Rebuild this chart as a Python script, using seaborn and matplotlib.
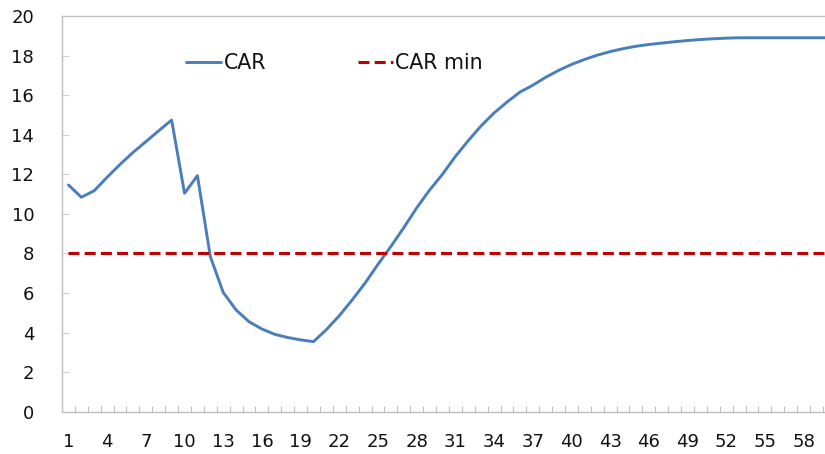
import matplotlib
matplotlib.use("Agg")
import matplotlib.pyplot as plt
import seaborn as sns
import pandas as pd
import numpy as np

# Werte
periods = list(range(1, 61))
car = [
    11.46, 10.84, 11.17, 11.85, 12.5, 13.1, 13.65, 14.2, 14.74, 11.04,
    11.93, 7.84, 6.03, 5.14, 4.55, 4.18, 3.91, 3.75, 3.63, 3.54,
    4.15, 4.85, 5.65, 6.5, 7.45, 8.35, 9.3, 10.3, 11.2, 12.0,
    12.9, 13.7, 14.45, 15.1, 15.65, 16.15, 16.5, 16.9, 17.25, 17.55,
    17.8, 18.02, 18.2, 18.35, 18.47, 18.56, 18.63, 18.7, 18.76, 18.81,
    18.85, 18.88, 18.9, 18.9, 18.9, 18.9, 18.9, 18.9, 18.9, 18.9,
]
car_min = [8] * len(periods)
x_tick_labels = [str(p) for p in periods[::3]]
y_ticks = list(range(0, 21, 2))

sns.set_theme(style="white")
plt.rcParams["font.family"] = ["DejaVu Sans"]

df = pd.DataFrame({"period": periods, "CAR": car, "CAR min": car_min})

fig = plt.figure(figsize=(8.25, 4.54), dpi=100)
ax = fig.add_axes([62 / 825, 42.3 / 454, 1 - 62 / 825, 395.7 / 454])

sns.lineplot(data=df, x="period", y="CAR", ax=ax, color="#4A7EBB",
             linewidth=2.1, label="CAR")
sns.lineplot(data=df, x="period", y="CAR min", ax=ax, color="#C00000",
             linewidth=2.2, linestyle=(0, (3.6, 1.7)), label="CAR min")

ax.set_xlim(0.5, 59.66)
ax.set_ylim(0, 20)
ax.set_xlabel("")
ax.set_ylabel("")

ax.set_xticks(periods[::3])
ax.set_xticklabels(x_tick_labels)
ax.set_xticks(np.arange(1.5, 60, 1), minor=True)
ax.set_yticks(y_ticks)
ax.tick_params(axis="x", which="major", length=0, pad=15, labelsize=13,
               colors="#111111")
ax.tick_params(axis="x", which="minor", direction="in", length=4,
               width=0.8, color="#BFBFBF", bottom=True)
ax.tick_params(axis="y", direction="in", length=5, width=0.8,
               color="#D0D0D0", pad=20, labelsize=13, left=True,
               labelcolor="#111111")

for side in ["left", "bottom", "top"]:
    ax.spines[side].set_visible(True)
    ax.spines[side].set_color("#BFBFBF")
    ax.spines[side].set_linewidth(1.0)
ax.spines["right"].set_visible(False)

ax.legend(loc="center", bbox_to_anchor=(0.357, 0.881), ncol=2,
          frameon=False, fontsize=14.8, handlelength=1.7,
          handletextpad=0.12, columnspacing=4.45, labelcolor="#111111")

plt.savefig("out.png", dpi=100)
plt.close()
